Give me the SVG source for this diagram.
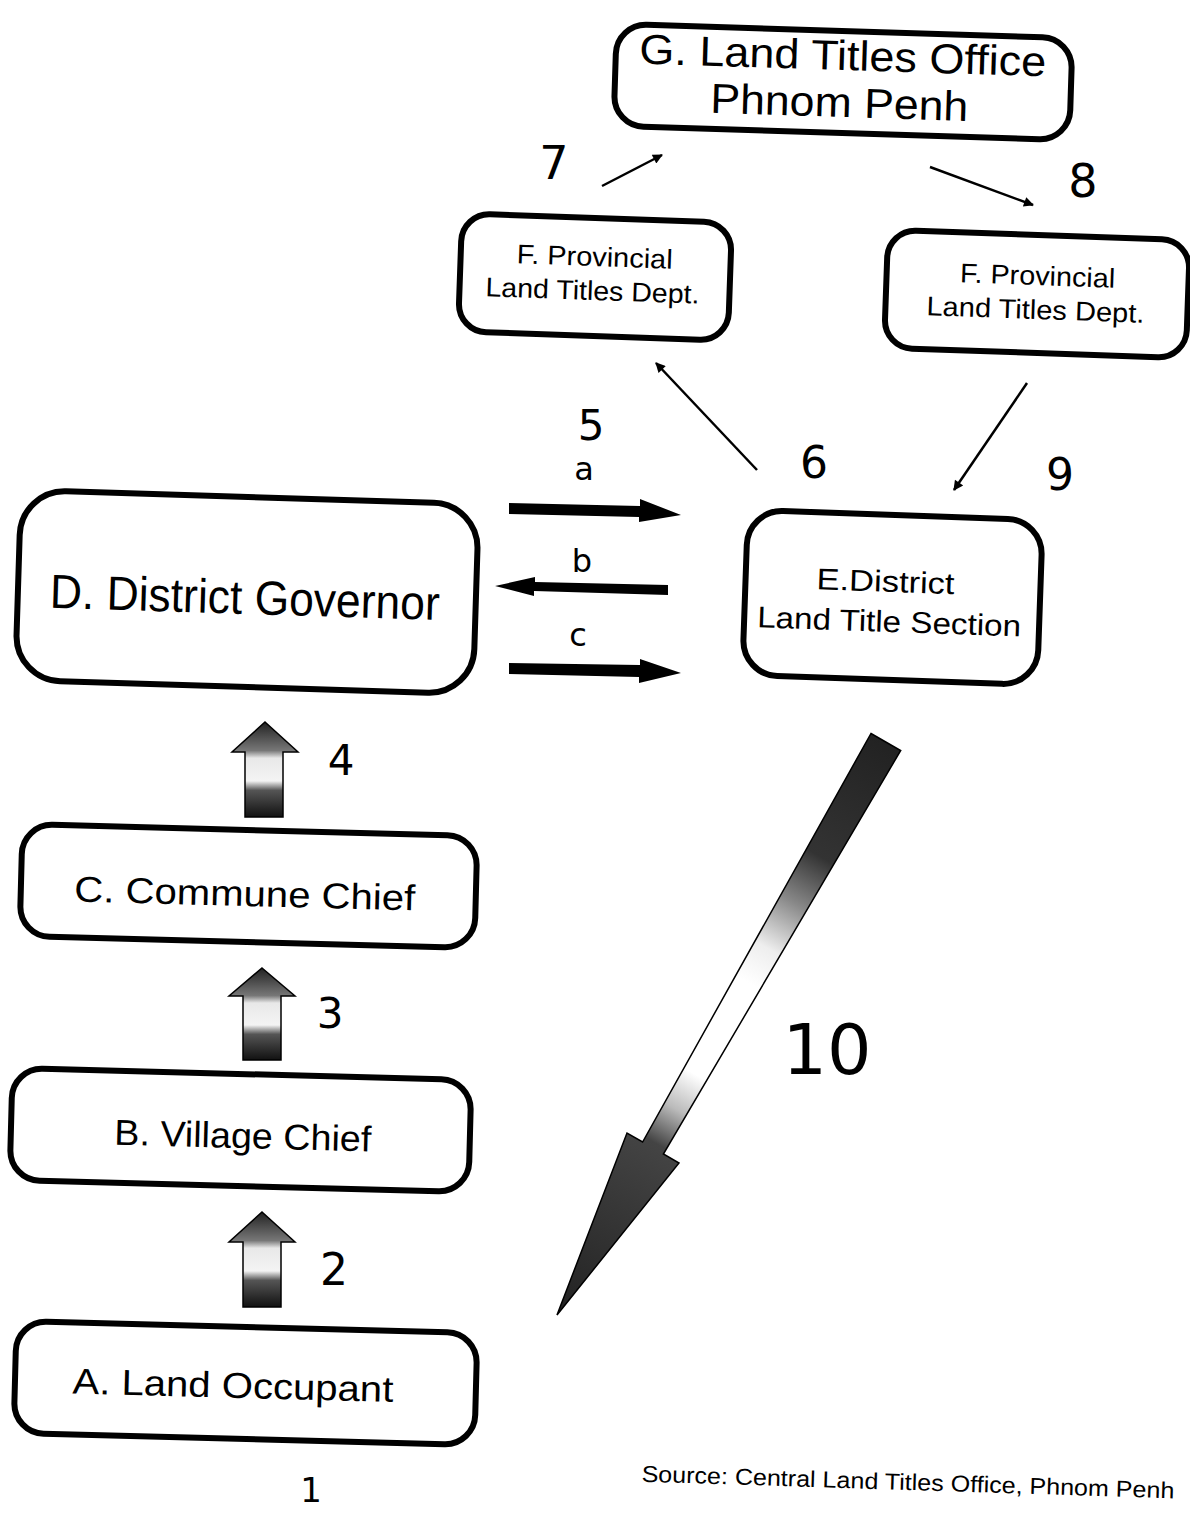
<svg xmlns="http://www.w3.org/2000/svg" width="1190" height="1513" viewBox="0 0 1190 1513">
<style>
.box{fill:#fff;stroke:#000;stroke-width:6}
.t{font-family:"Liberation Sans",Arial,sans-serif;fill:#000;text-anchor:middle}
.n{font-family:"DejaVu Sans","Liberation Sans",sans-serif;fill:#000;text-anchor:middle;font-weight:normal}
.thin{stroke:#000;stroke-width:2.5;fill:none}
.blk{stroke:#000;stroke-width:1.5}
</style>
<defs>
<marker id="ah" viewBox="0 0 10 10" refX="9" refY="5" markerWidth="12" markerHeight="10" markerUnits="userSpaceOnUse" orient="auto">
<path d="M0,0 L10,5 L0,10 z" fill="#000"/>
</marker>
<linearGradient id="up" x1="0" y1="0" x2="0" y2="1">
<stop offset="0" stop-color="#222"/>
<stop offset="0.3" stop-color="#777"/>
<stop offset="0.38" stop-color="#e8e8e8"/>
<stop offset="0.62" stop-color="#f4f4f4"/>
<stop offset="0.72" stop-color="#555"/>
<stop offset="1" stop-color="#111"/>
</linearGradient>
<linearGradient id="big" gradientUnits="userSpaceOnUse" x1="886" y1="742" x2="557" y2="1315">
<stop offset="0" stop-color="#222"/>
<stop offset="0.2" stop-color="#333"/>
<stop offset="0.28" stop-color="#888"/>
<stop offset="0.36" stop-color="#eee"/>
<stop offset="0.42" stop-color="#fff"/>
<stop offset="0.58" stop-color="#fff"/>
<stop offset="0.64" stop-color="#bbb"/>
<stop offset="0.7" stop-color="#444"/>
<stop offset="1" stop-color="#222"/>
</linearGradient>
</defs>

<g id="nodeG" transform="rotate(1.8 843 83)">
<rect class="box" x="615" y="31" width="456" height="102" rx="30"/>
<text class="t" x="842" y="70" font-size="42" textLength="407" lengthAdjust="spacingAndGlyphs">G. Land Titles Office</text>
<text class="t" x="840" y="117" font-size="42" textLength="258" lengthAdjust="spacingAndGlyphs">Phnom Penh</text>
</g>

<g id="nodeF1" transform="rotate(2 595 277)">
<rect class="box" x="460" y="218" width="270" height="118" rx="28"/>
<text class="t" x="594" y="266" font-size="27" textLength="156" lengthAdjust="spacingAndGlyphs">F. Provincial</text>
<text class="t" x="593" y="300" font-size="27" textLength="214" lengthAdjust="spacingAndGlyphs">Land Titles Dept.</text>
</g>

<g id="nodeF2" transform="rotate(2 1037 294)">
<rect class="box" x="886" y="235" width="302" height="118" rx="28"/>
<text class="t" x="1037" y="285" font-size="27" textLength="155" lengthAdjust="spacingAndGlyphs">F. Provincial</text>
<text class="t" x="1036" y="319" font-size="27" textLength="218" lengthAdjust="spacingAndGlyphs">Land Titles Dept.</text>
</g>

<g id="nodeD" transform="rotate(1.8 247 592)">
<rect class="box" x="18" y="497" width="458" height="190" rx="45"/>
<text class="t" x="245" y="614" font-size="48" textLength="390" lengthAdjust="spacingAndGlyphs">D. District Governor</text>
</g>

<g id="nodeE" transform="rotate(2 893 598)">
<rect class="box" x="745" y="515" width="295" height="165" rx="35"/>
<text class="t" x="885" y="592" font-size="30" textLength="138" lengthAdjust="spacingAndGlyphs">E.District</text>
<text class="t" x="890" y="632" font-size="30" textLength="264" lengthAdjust="spacingAndGlyphs">Land Title Section</text>
</g>

<g id="nodeC" transform="rotate(1.5 248 886)">
<rect class="box" x="21" y="830" width="455" height="112" rx="30"/>
<text class="t" x="245" y="906" font-size="36" textLength="341" lengthAdjust="spacingAndGlyphs">C. Commune Chief</text>
</g>

<g id="nodeB" transform="rotate(1.5 240 1130)">
<rect class="box" x="11" y="1074" width="459" height="112" rx="30"/>
<text class="t" x="243" y="1148" font-size="36" textLength="257" lengthAdjust="spacingAndGlyphs">B. Village Chief</text>
</g>

<g id="nodeA" transform="rotate(1.5 245 1383)">
<rect class="box" x="15" y="1327" width="461" height="112" rx="30"/>
<text class="t" x="233" y="1398" font-size="36" textLength="321" lengthAdjust="spacingAndGlyphs">A. Land Occupant</text>
</g>

<g id="connectors">
<line class="thin" x1="602" y1="186" x2="662" y2="155" marker-end="url(#ah)"/>
<line class="thin" x1="930" y1="167" x2="1033" y2="205" marker-end="url(#ah)"/>
<line class="thin" x1="757" y1="470" x2="656" y2="363" marker-end="url(#ah)"/>
<line class="thin" x1="1027" y1="383" x2="954" y2="490" marker-end="url(#ah)"/>
<polygon fill="#000" points="509,503 640,506 640,499 681,515 639,522 639,517 509,514"/>
<polygon fill="#000" points="668,585 535,582 535,577 495,586 534,596 534,591 668,595"/>
<polygon fill="#000" points="509,663 640,665 640,659 681,673 639,683 639,677 509,674"/>
<path class="blk" fill="url(#up)" d="M265,722 L298,752 L283,752 L283,817 L245,817 L245,752 L232,752 Z"/>
<path class="blk" fill="url(#up)" d="M262,968 L295,996 L281,996 L281,1060 L243,1060 L243,996 L229,996 Z"/>
<path class="blk" fill="url(#up)" d="M262,1212 L295,1242 L281,1242 L281,1307 L243,1307 L243,1242 L229,1242 Z"/>
<polygon class="blk" fill="url(#big)" points="871,733.5 900.7,750.5 663.4,1154 679,1163 557,1315 627,1133 642.6,1142"/>
</g>

<g id="labels">
<text class="n" x="554" y="179" font-size="46">7</text>
<text class="n" x="1083" y="197" font-size="46">8</text>
<text class="n" x="591" y="440" font-size="42">5</text>
<text class="n" x="584" y="480" font-size="32">a</text>
<text class="n" x="582" y="572" font-size="32">b</text>
<text class="n" x="578" y="646" font-size="32">c</text>
<text class="n" x="814" y="478" font-size="44">6</text>
<text class="n" x="1060" y="490" font-size="44">9</text>
<text class="n" x="341" y="775" font-size="42">4</text>
<text class="n" x="330" y="1028" font-size="42">3</text>
<text class="n" x="334" y="1285" font-size="44">2</text>
<text class="n" x="827" y="1074" font-size="70" font-weight="200">10</text>
<text class="n" x="311" y="1502" font-size="34">1</text>
<text class="t" x="908" y="1490" font-size="23" textLength="533" lengthAdjust="spacingAndGlyphs" transform="rotate(1.8 908 1482)">Source: Central Land Titles Office, Phnom Penh</text>
</g>
</svg>
